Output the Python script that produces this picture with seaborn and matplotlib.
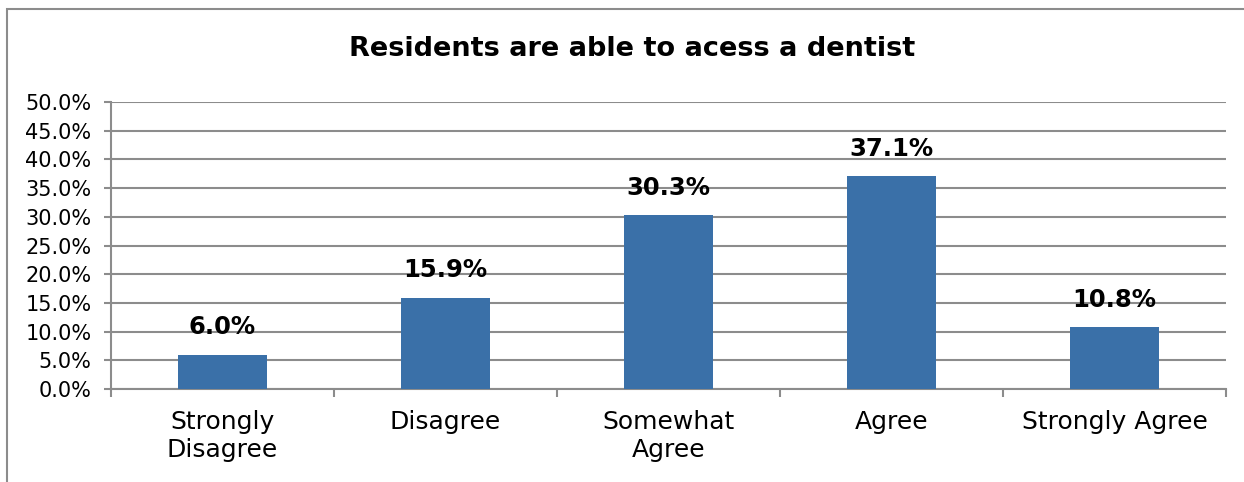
import matplotlib
matplotlib.use("Agg")
import matplotlib.pyplot as plt
from matplotlib.patches import Rectangle
from matplotlib.ticker import FixedLocator, PercentFormatter
import seaborn as sns
import pandas as pd

categories = ["Strongly\nDisagree", "Disagree", "Somewhat\nAgree", "Agree", "Strongly Agree"]
values = [6.0, 15.9, 30.3, 37.1, 10.8]
title = "Residents are able to acess a dentist"

df = pd.DataFrame({"response": categories, "share": values})

sns.set_theme(style="white")
plt.rcParams["font.family"] = ["DejaVu Sans"]

grid_color = "#8C8C8C"
bar_color = "#3A70A8"

fig = plt.figure(figsize=(12.44, 4.82), dpi=100, facecolor="white")
ax = fig.add_axes([111 / 1244, 1 - 389 / 482, (1226 - 111) / 1244, (389 - 102) / 482])

sns.barplot(data=df, x="response", y="share", color=bar_color, width=0.4,
            saturation=1, linewidth=0, edgecolor="none", ax=ax, zorder=3)

ax.set_ylim(0, 50)
ax.set_xlim(-0.5, len(categories) - 0.5)
ax.yaxis.set_major_locator(FixedLocator([i * 5 for i in range(11)]))
ax.yaxis.set_major_formatter(PercentFormatter(decimals=1))
ax.grid(axis="y", color=grid_color, linewidth=1.5, zorder=0)
ax.set_axisbelow(True)

for side in ("top", "right"):
    ax.spines[side].set_visible(False)
for side in ("left", "bottom"):
    ax.spines[side].set_color(grid_color)
    ax.spines[side].set_linewidth(1.5)

ax.set_xlabel("")
ax.set_ylabel("")
ax.tick_params(axis="y", which="major", left=True, length=5, width=1.5,
               color=grid_color, labelsize=15, pad=9, labelcolor="black")
ax.tick_params(axis="x", which="major", bottom=False, length=0, labelsize=18,
               pad=15, labelcolor="black")
ax.xaxis.set_minor_locator(FixedLocator([i - 0.5 for i in range(len(categories) + 1)]))
ax.tick_params(axis="x", which="minor", bottom=True, length=6, width=1.5,
               color=grid_color)

ax.bar_label(ax.containers[0], labels=[f"{v:.1f}%" for v in values],
             padding=11, fontsize=17.5, fontweight="bold", color="black")

fig.text(0.508, 1 - 49 / 482, title, ha="center", va="center",
         fontsize=19.5, fontweight="bold", color="black")

# outer chart frame; its right and bottom edges fall outside the canvas
fx, fy = 7 / 1244, 1 - 9 / 482
fig.add_artist(Rectangle((fx, -0.2), 1.3, fy + 0.2, transform=fig.transFigure,
                         fill=False, edgecolor=grid_color, linewidth=1.5))

fig.savefig("out.png", dpi=100, facecolor="white")
